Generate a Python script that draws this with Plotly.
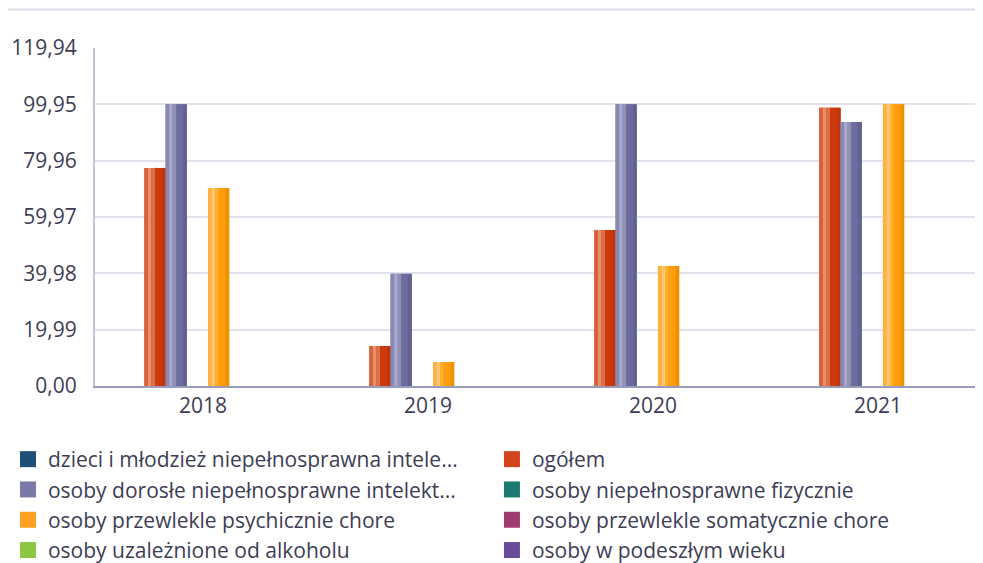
import plotly.graph_objects as go

years = ["2018", "2019", "2020", "2021"]
series_names = [
    "dzieci i młodzież niepełnosprawna intele...",
    "ogółem",
    "osoby dorosłe niepełnosprawne intelekt...",
    "osoby niepełnosprawne fizycznie",
    "osoby przewlekle psychicznie chore",
    "osoby przewlekle somatycznie chore",
    "osoby uzależnione od alkoholu",
    "osoby w podeszłym wieku",
]
dzieci = [None, None, None, None]
ogolem = [77.4, 14.2, 55.4, 98.7]
dorosle = [99.95, 39.8, 99.95, 93.7]
fizycznie = [None, None, None, None]
psychicznie = [70.3, 8.5, 42.6, 99.95]
somatycznie = [None, None, None, None]
alkohol = [None, None, None, None]
podeszly = [None, None, None, None]
series_values = [dzieci, ogolem, dorosle, fizycznie, psychicznie, somatycznie, alkohol, podeszly]

tick_vals = [0, 19.99, 39.98, 59.97, 79.96, 99.95, 119.94]
tick_text = ["0,00", "19,99", "39,98", "59,97", "79,96", "99,95", "119,94"]

# gradient stripes (left -> right) per series
stripes = [
    ["#2a5a8a", "#3a6a9a", "#1f4e79", "#0f3a66", "#0a3060", "#0a2a55"],
    ["#d8603a", "#e8906a", "#dd7048", "#cc3a10", "#cc3a0a", "#c23508"],
    ["#8888b0", "#a8a8cc", "#9090b8", "#6e6e9e", "#6c6c9c", "#626292"],
    ["#3a8a82", "#5aa69e", "#2a807a", "#0f6a64", "#0c625c", "#0a5a55"],
    ["#ffb040", "#ffc870", "#ffb030", "#ff9f10", "#ff9c0c", "#f09000"],
    ["#b05a88", "#c47aa0", "#a84878", "#963868", "#903262", "#882c5a"],
    ["#9ccc55", "#b4dc78", "#98cc50", "#8cc43c", "#86c036", "#7cb82e"],
    ["#7a62a8", "#9480c0", "#7258a8", "#5e4496", "#5a4090", "#543a88"],
]
legend_colors = ["#1f4e79", "#d4441a", "#7a7aa8", "#1a7a70", "#ffa020", "#a03a70", "#8dc63f", "#6a4a9a"]

bar_w = 0.0942
start = -0.3546

fig = go.Figure()
n_str = 6
for i, (name, vals) in enumerate(zip(series_names, series_values)):
    off = start + i * bar_w
    # solid base bar (prevents seams between stripes)
    fig.add_trace(go.Bar(
        x=years, y=vals, width=bar_w, offset=off,
        marker=dict(color=stripes[i][3], line=dict(width=0)),
        showlegend=False, hoverinfo="skip", name=name,
    ))
    sw = bar_w / n_str
    for k in range(n_str):
        fig.add_trace(go.Bar(
            x=years, y=vals, width=sw * 1.02, offset=off + k * sw,
            marker=dict(color=stripes[i][k], line=dict(width=0)),
            showlegend=False, hoverinfo="skip", name=name,
        ))
# legend entries (square swatches)
for i, name in enumerate(series_names):
    fig.add_trace(go.Scatter(
        x=[None], y=[None], mode="markers", name=name,
        marker=dict(symbol="square", size=18, color=legend_colors[i]),
        showlegend=True, hoverinfo="skip",
        legend="legend" if i % 2 == 0 else "legend2",
    ))

font_family = "Open Sans"
txt = "#3d3d55"
leg_common = dict(
    orientation="v", yanchor="top", xanchor="left",
    font=dict(size=21, color=txt), traceorder="normal",
    itemwidth=30, itemsizing="trace", bgcolor="rgba(0,0,0,0)",
)
fig.update_layout(
    width=975, height=555,
    barmode="overlay",
    paper_bgcolor="white", plot_bgcolor="white",
    margin=dict(l=87, r=0, t=40, b=177, autoexpand=False),
    font=dict(family=font_family, color=txt),
    xaxis=dict(
        type="category", range=[-0.48, 3.467],
        showgrid=False, showline=True, linecolor="#9a9abc", linewidth=2,
        ticks="", tickfont=dict(size=21, color=txt),
    ),
    yaxis=dict(
        range=[0, 119.94], tickvals=tick_vals, ticktext=tick_text,
        showgrid=True, gridcolor="#e2e2ee", gridwidth=2,
        showline=True, linecolor="#c4c4d8", linewidth=2,
        zeroline=False, ticks="", ticklabelstandoff=12,
        tickfont=dict(size=21, color=txt),
    ),
    legend=dict(x=-0.098, y=-0.1568, **leg_common),
    legend2=dict(x=0.447, y=-0.1568, **leg_common),
    shapes=[dict(type="line", xref="paper", yref="paper", x0=-0.098, x1=1,
                 y0=1.114, y1=1.114, line=dict(color="#dcdce8", width=2))],
)

fig.write_html("out.html")
